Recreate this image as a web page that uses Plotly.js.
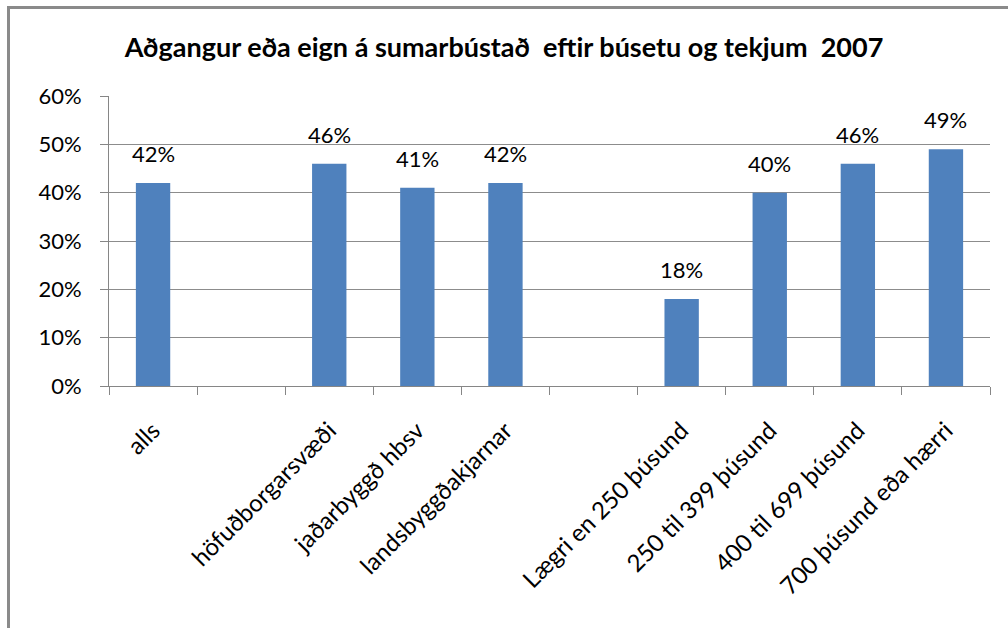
<!DOCTYPE html>
<html>
<head>
<meta charset="utf-8">
<script src="https://cdn.plot.ly/plotly-3.0.1.min.js"></script>
<style>
  html, body { margin: 0; padding: 0; background: #fff; overflow: hidden; }
  #frame { position: absolute; left: 7px; top: 6px; width: 1020px; height: 640px; border: 3px solid #8a8a8a; box-sizing: border-box; }
  #chart { position: absolute; left: 0; top: 0; width: 1008px; height: 628px; }
</style>
</head>
<body>
<div id="chart"></div>
<div id="frame"></div>
<script>
const categories = ["alls", " ", "höfuðborgarsvæði", "jaðarbyggð hbsv", "landsbyggðakjarnar", "  ",
  "Lægri en 250 þúsund", "250 til 399 þúsund", "400 til 699 þúsund", "700 þúsund eða hærri"];
const values = [0.42, null, 0.46, 0.41, 0.42, null, 0.18, 0.40, 0.46, 0.49];
const yTicks = [0, 0.1, 0.2, 0.3, 0.4, 0.5, 0.6];
const chartTitle = "Aðgangur eða eign á sumarbústað  eftir búsetu og tekjum  2007";

const font = "Lato, 'Open Sans', sans-serif";
const trace = {
  type: "bar",
  x: categories,
  y: values,
  marker: { color: "#4F81BD" },
  hoverinfo: "x+y"
};
const annotations = [];
categories.forEach((c, i) => {
  if (values[i] == null) return;
  annotations.push({
    x: c, y: values[i], xref: "x", yref: "y",
    text: Math.round(values[i] * 100) + "%",
    showarrow: false, yanchor: "bottom", yshift: 14,
    font: { family: font, size: 22, color: "#000" }
  });
});
const layout = {
  width: 1008, height: 628,
  margin: { l: 109, r: 18, t: 96, b: 242 },
  paper_bgcolor: "#fff", plot_bgcolor: "#fff",
  bargap: 0.61,
  showlegend: false,
  annotations: annotations,
  title: { text: chartTitle, font: { family: font, size: 27, color: "#000", weight: "bold" },
           x: 0.5, xanchor: "center", y: 0.925, yanchor: "middle" },
  xaxis: {
    type: "category",
    tickangle: -45,
    ticks: "outside", tickson: "boundaries", ticklen: 8, tickcolor: "#868686",
    showline: true, linecolor: "#868686", linewidth: 1,
    showgrid: false,
    ticklabelstandoff: 20,
    tickfont: { family: font, size: 24, color: "#000" }
  },
  yaxis: {
    range: [0, 0.6],
    tickvals: yTicks,
    tickformat: ".0%",
    ticks: "outside", ticklen: 8, tickcolor: "#868686",
    showline: true, linecolor: "#868686", linewidth: 1,
    showgrid: true, gridcolor: "#8c8c8c", gridwidth: 1,
    zeroline: false,
    ticklabelstandoff: 14,
    tickfont: { family: font, size: 22, color: "#000" }
  }
};
Plotly.newPlot("chart", [trace], layout, { displayModeBar: false, staticPlot: true });
</script>
</body>
</html>
